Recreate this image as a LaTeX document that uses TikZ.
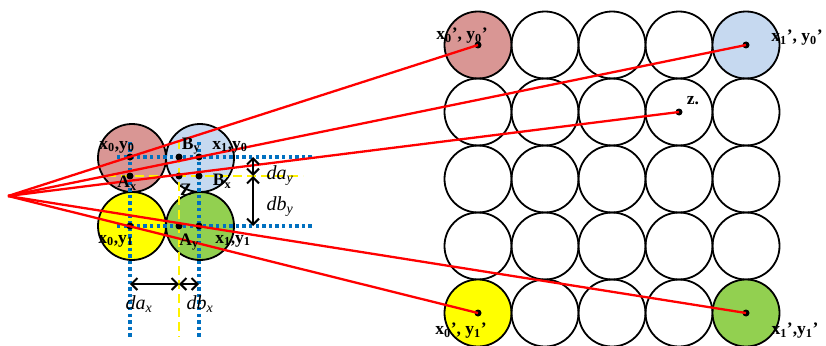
\documentclass[tikz,border=0pt]{standalone}
\usepackage{fontspec}
\setmainfont{Liberation Serif}
\usetikzlibrary{arrows.meta}
\definecolor{rosec}{RGB}{217,150,148}
\definecolor{skyc}{RGB}{198,217,240}
\definecolor{lemonc}{RGB}{255,255,0}
\definecolor{leafc}{RGB}{146,208,80}
\definecolor{gridc}{RGB}{0,112,192}
\begin{document}
\begin{tikzpicture}[x=1pt, y=-1pt,
		cell/.style={circle, draw, line width=1.8pt, minimum size=67pt, inner sep=0pt},
		tint00/.style={fill=rosec},
		tint40/.style={fill=skyc},
		tint04/.style={fill=lemonc},
		tint44/.style={fill=leafc},
		dot/.style={circle, fill, inner sep=0pt, minimum size=7pt},
		lbl/.style={font=\fontsize{17.5}{19}\selectfont\bfseries, inner sep=0pt},
		dist/.style={font=\fontsize{20}{22}\selectfont\itshape, inner sep=0pt},
		ray/.style={red, line width=2.3pt},
		guide/.style={gridc, line width=3.3pt, dash pattern=on 3.3pt off 3.3pt},
		mid/.style={yellow, line width=2.4pt, dash pattern=on 9pt off 5pt},
		span/.style={{Straight Barb[length=6pt,width=12pt]}-{Straight Barb[length=6pt,width=12pt]}, line width=2pt}]
	\useasboundingbox (0,0) rectangle (826,345);
	\foreach \i in {0,...,4}
		\foreach \j in {0,...,4}
			\node[cell, tint\i\j/.try] (g\i\j) at (478+67*\i, 45+67*\j) {};
	\node[cell, minimum size=68pt, fill=rosec] (a00) at (132,158) {};
	\node[cell, minimum size=68pt, fill=skyc] (a10) at (200,158) {};
	\node[cell, minimum size=68pt, fill=lemonc] (a01) at (132,226) {};
	\node[cell, minimum size=68pt, fill=leafc] (a11) at (200,226) {};
	\coordinate (v0t) at (130,142);
	\coordinate (v0b) at (130,337);
	\coordinate (v1t) at (199,142);
	\coordinate (v1b) at (199,337);
	\coordinate (h0l) at (117,157);
	\coordinate (h0r) at (313,157);
	\coordinate (h1l) at (117,226);
	\coordinate (h1r) at (313,226);
	\coordinate (mvt) at (179,140);
	\coordinate (mvb) at (179,337);
	\coordinate (mhl) at (107,176);
	\coordinate (mhr) at (303,176);
	\draw[mid] (mvt) -- (mvb);
	\draw[mid] (mhl) -- (mhr);
	\draw[guide] (v0t) -- (v0b);
	\draw[guide] (v1t) -- (v1b);
	\draw[guide] (h0l) -- (h0r);
	\draw[guide] (h1l) -- (h1r);
	\node[dot] (p00) at (130,157) {};
	\node[dot] (by) at (179,157) {};
	\node[dot] (p10) at (199,157) {};
	\node[dot] (ax) at (130,176) {};
	\node[dot] (z) at (179,176) {};
	\node[dot] (bx) at (199,176) {};
	\node[dot] (p01) at (130,226) {};
	\node[dot] (ay) at (179,226) {};
	\node[dot] (p11) at (199,226) {};
	\coordinate (eye) at (8,196);
	\node[dot] (q00) at (g00) {};
	\node[dot] (q40) at (g40) {};
	\node[dot] (zq) at (g31) {};
	\node[dot] (q04) at (g04) {};
	\node[dot] (q44) at (g44) {};
	\foreach \t in {q00,q40,zq,q04,q44}
		\draw[ray] (eye) -- (\t.center);
	\node[lbl] at (117,147) {x\textsubscript{0},y\textsubscript{0}};
	\node[lbl] at (191,146) {B\textsubscript{y}};
	\node[lbl] at (230,147) {x\textsubscript{1},y\textsubscript{0}};
	\node[lbl] at (127,183) {A\textsubscript{x}};
	\node[lbl] at (186,190) {Z};
	\node[lbl] at (222,181) {B\textsubscript{x}};
	\node[lbl] at (116,241) {x\textsubscript{0},y\textsubscript{1}};
	\node[lbl] at (189,242) {A\textsubscript{y}};
	\node[lbl] at (233,241) {x\textsubscript{1},y\textsubscript{1}};
	\node[lbl] at (462,36) {x\textsubscript{0}', y\textsubscript{0}'};
	\node[lbl] at (797,38) {x\textsubscript{1}', y\textsubscript{0}'};
	\node[lbl] at (693,101) {z.};
	\node[lbl] at (461,331) {x\textsubscript{0}', y\textsubscript{1}'};
	\node[lbl] at (795,331) {x\textsubscript{1}',y\textsubscript{1}'};
	\coordinate (dx0) at (130,284);
	\coordinate (dx1) at (179,284);
	\coordinate (dx2) at (199,284);
	\coordinate (dy0) at (253,157);
	\coordinate (dy1) at (253,176);
	\coordinate (dy2) at (253,226);
	\draw[span] (dx0) -- (dx1);
	\draw[span] (dx1) -- (dx2);
	\draw[span] (dy0) -- (dy1);
	\draw[span] (dy1) -- (dy2);
	\node[dist] at (139,304) {da\textsubscript{x}};
	\node[dist] at (200,304) {db\textsubscript{x}};
	\node[dist] at (280,176) {da\textsubscript{y}};
	\node[dist] at (280,207) {db\textsubscript{y}};
\end{tikzpicture}
\end{document}
